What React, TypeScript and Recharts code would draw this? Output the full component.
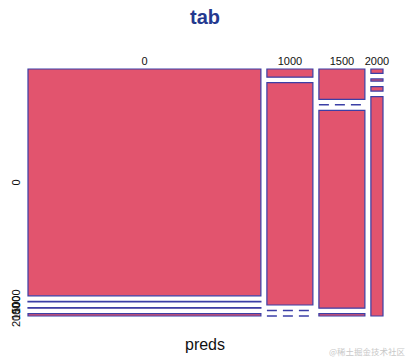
import { ComposedChart, XAxis, YAxis, ReferenceArea, ReferenceLine } from "recharts";

// mosaic of tab = table(actual, preds)
const predLevels = ["0", "1000", "1500", "2000"];
const actualLevels = ["0", "1000", "1500", "2000"];

// counts per preds column, rows in actualLevels order
const col0 = [1968, 6, 6, 20];
const col1 = [14, 381, 0, 0];
const col2 = [52, 0, 339, 4];
const col3 = [2, 1, 2, 99];
const counts = [col0, col1, col2, col3];

const GAP_X = 0.0178;
const GAP_Y = 0.0239;

const FILL = "#E2546E";
const STROKE = "#3B3FA6";
const FONT = "'Liberation Sans', Arial, sans-serif";

const colTotals = counts.map((c) => c.reduce((a, b) => a + b, 0));
const grand = colTotals.reduce((a, b) => a + b, 0);
const xMax = 1 + (predLevels.length - 1) * GAP_X;
const yMax = 1 + (actualLevels.length - 1) * GAP_Y;

type Cell = { x1: number; x2: number; y1: number; y2: number; n: number; key: string };

const cells: Cell[] = [];
const colCenters: number[] = [];
let xs = 0;
counts.forEach((col, j) => {
  const w = colTotals[j] / grand;
  colCenters.push(xs + w / 2);
  let ys = 0;
  col.forEach((n, i) => {
    const h = n / colTotals[j];
    cells.push({ x1: xs, x2: xs + w, y1: ys, y2: ys + h, n, key: `${j}-${i}` });
    ys += h + GAP_Y;
  });
  xs += w + GAP_X;
});

// left labels sit at the row centres of the first column
const rowCenters: number[] = [];
{
  let ys = 0;
  col0.forEach((n) => {
    const h = n / colTotals[0];
    rowCenters.push(ys + h / 2);
    ys += h + GAP_Y;
  });
}

const nearest = (arr: number[], v: number) => {
  let best = 0;
  arr.forEach((a, i) => {
    if (Math.abs(a - v) < Math.abs(arr[best] - v)) best = i;
  });
  return best;
};

function TopTick({ x, payload }: any) {
  const i = nearest(colCenters, payload.value);
  return (
    <text x={x} y={65} textAnchor="middle" fontSize={11} fontFamily={FONT} fill="#111">
      {predLevels[i]}
    </text>
  );
}

function LeftTick({ y, payload }: any) {
  const i = nearest(rowCenters, payload.value);
  return (
    <text
      x={20}
      y={y}
      transform={`rotate(-90, 20, ${y})`}
      textAnchor="middle"
      fontSize={11}
      fontFamily={FONT}
      fill="#111"
    >
      {actualLevels[i]}
    </text>
  );
}

export default function App() {
  return (
    <div style={{ position: "absolute", left: 0, top: 0, width: 407, height: 360, background: "#fff" }}>
      <div
        style={{
          position: "absolute",
          left: 0,
          width: 410,
          top: 6,
          textAlign: "center",
          fontFamily: FONT,
          fontWeight: "bold",
          fontSize: 20,
          color: "#24398F",
        }}
      >
        tab
      </div>
      <ComposedChart width={407} height={360} data={[]} margin={{ top: 47, right: 24, bottom: 44, left: 0 }}>
        <XAxis
          type="number"
          dataKey="x"
          orientation="top"
          domain={[0, xMax]}
          allowDataOverflow
          ticks={colCenters}
          tick={<TopTick />}
          interval={0}
          axisLine={false}
          tickLine={false}
          height={22}
        />
        <YAxis
          type="number"
          dataKey="y"
          reversed
          domain={[0, yMax]}
          allowDataOverflow
          ticks={rowCenters}
          tick={<LeftTick />}
          axisLine={false}
          tickLine={false}
          width={28}
          interval={0}
        />
        {cells.map((c) =>
          c.n > 0 ? (
            <ReferenceArea
              key={c.key}
              x1={c.x1}
              x2={c.x2}
              y1={c.y1}
              y2={c.y2}
              fill={FILL}
              fillOpacity={1}
              stroke={STROKE}
              strokeWidth={1.2}
              ifOverflow="visible"
            />
          ) : (
            <ReferenceLine
              key={c.key}
              segment={[
                { x: c.x1, y: c.y1 },
                { x: c.x2, y: c.y1 },
              ]}
              stroke={STROKE}
              strokeWidth={1.5}
              strokeDasharray="10 6"
              ifOverflow="visible"
            />
          )
        )}
      </ComposedChart>
      <div
        style={{
          position: "absolute",
          left: 0,
          width: 410,
          top: 336,
          textAlign: "center",
          fontFamily: FONT,
          fontSize: 16,
          color: "#111",
        }}
      >
        preds
      </div>
      <div
        style={{
          position: "absolute",
          right: 2,
          top: 345,
          fontFamily: "'Noto Sans CJK SC', sans-serif",
          fontSize: 8.5,
          color: "#c8c8c8",
        }}
      >
        @稀土掘金技术社区
      </div>
    </div>
  );
}
